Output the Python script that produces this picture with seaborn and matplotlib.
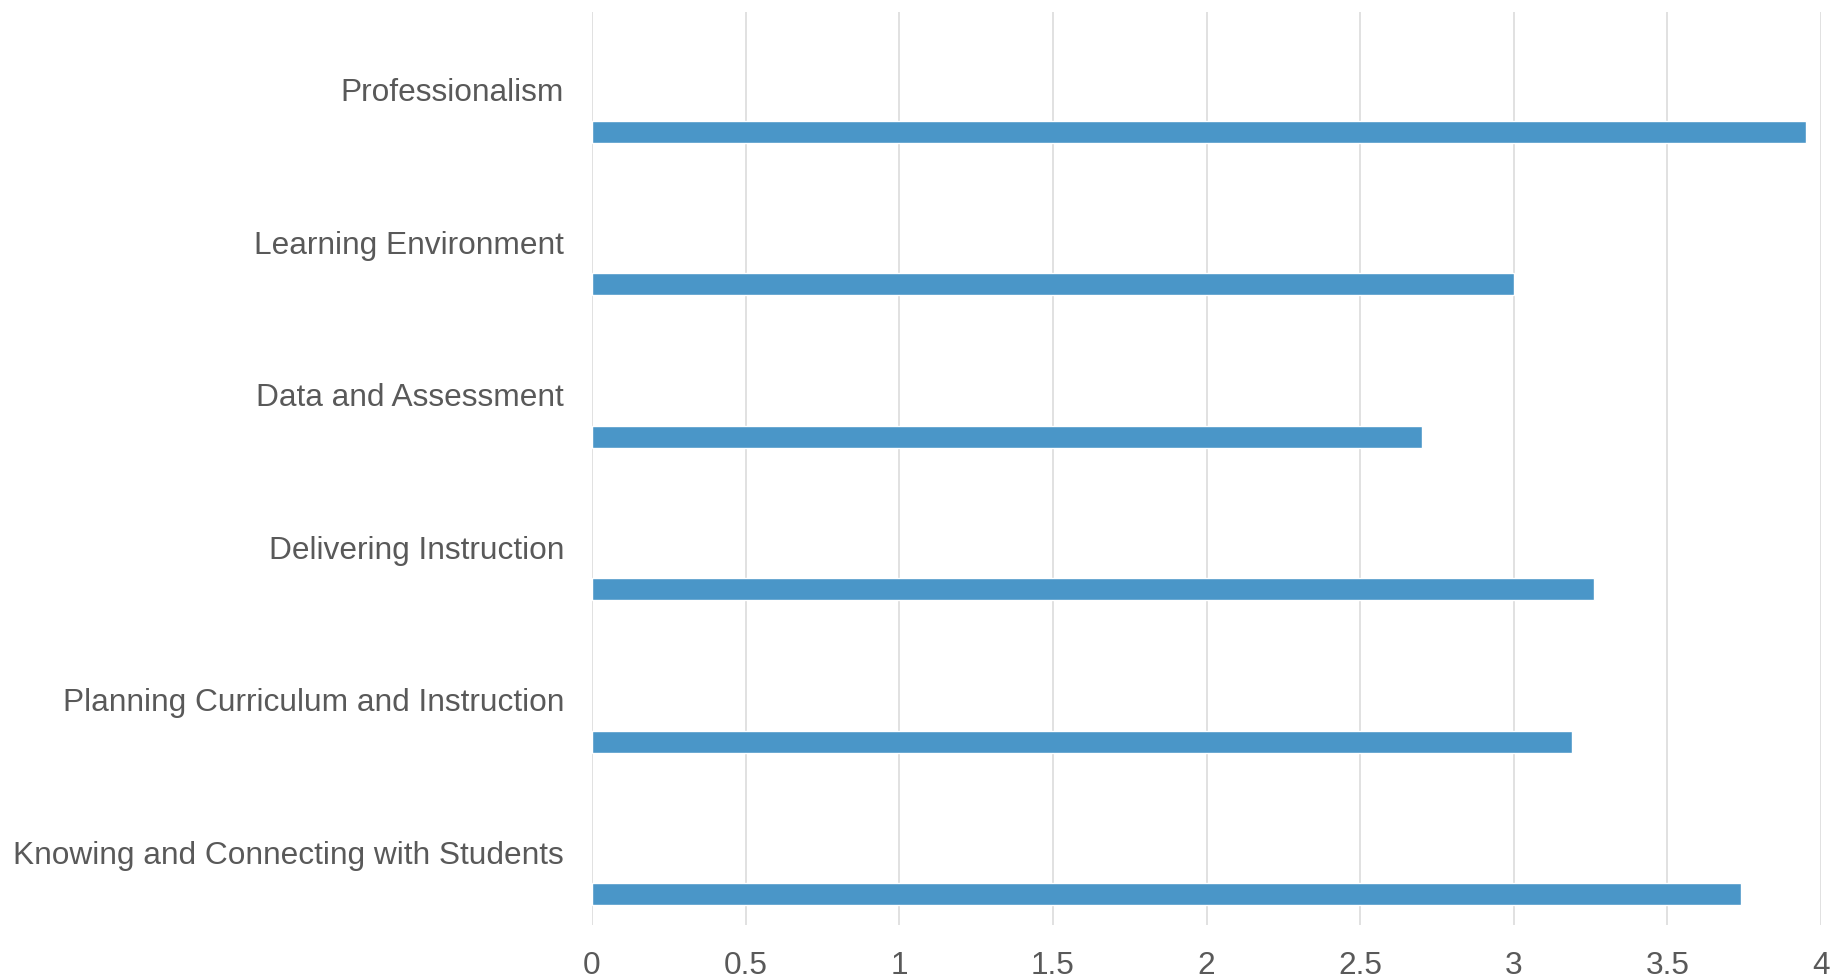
import matplotlib
matplotlib.use("Agg")
import matplotlib.pyplot as plt
import matplotlib.transforms as mtransforms
import seaborn as sns
import pandas as pd

categories = [
    "Professionalism",
    "Learning Environment",
    "Data and Assessment",
    "Delivering Instruction",
    "Planning Curriculum and Instruction",
    "Knowing and Connecting with Students",
]
scores = [3.95, 3.0, 2.7, 3.26, 3.19, 3.74]
x_ticks = [0, 0.5, 1, 1.5, 2, 2.5, 3, 3.5, 4]
x_tick_labels = ["0", "0.5", "1", "1.5", "2", "2.5", "3", "3.5", "4"]

df = pd.DataFrame({"category": categories, "score": scores})

sns.set_theme(style="white")
plt.rcParams["font.family"] = ["Liberation Sans", "DejaVu Sans"]

W, H, DPI = 1831, 980, 100
fig = plt.figure(figsize=(W / DPI, H / DPI), dpi=DPI)
left, right, top, bottom = 592, 1821, 12, 925
ax = fig.add_axes([left / W, 1 - bottom / H, (right - left) / W, (bottom - top) / H])

sns.barplot(data=df, x="score", y="category", orient="h", color="#4A96C8",
            saturation=1, width=0.144, errorbar=None, ax=ax, zorder=3)

ax.set_xlim(0, 4)
ax.set_ylim(5.203, -0.784)
ax.set_xticks(x_ticks)
ax.set_xticklabels(x_tick_labels)
ax.set_xlabel("")
ax.set_ylabel("")
for s in ax.spines.values():
    s.set_visible(False)
ax.set_axisbelow(True)
ax.grid(axis="x", color="#D9D9D9", linewidth=1.1)
ax.grid(axis="y", visible=False)

text_color = "#595959"
ax.tick_params(axis="x", length=0, pad=19, labelsize=22.8, labelcolor=text_color)
ax.tick_params(axis="y", length=0, pad=20, labelsize=22.8, labelcolor=text_color)

offset = mtransforms.ScaledTranslation(0, 42 / DPI, fig.dpi_scale_trans)
for lab in ax.get_yticklabels():
    lab.set_transform(lab.get_transform() + offset)

fig.savefig("out.png", dpi=DPI, facecolor="white")
